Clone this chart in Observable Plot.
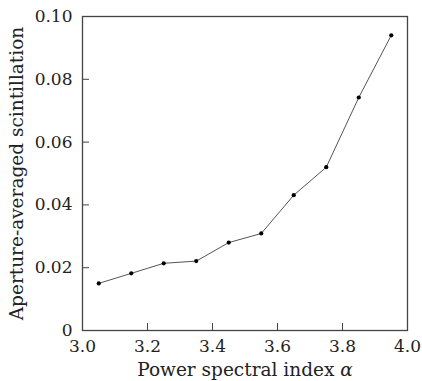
<!DOCTYPE html>
<html><head><meta charset="utf-8">
<script src="https://cdn.jsdelivr.net/npm/d3@7"></script>
<script src="https://cdn.jsdelivr.net/npm/@observablehq/plot@0.6"></script>
<style>body{margin:0;background:#fff}</style>
</head><body><div id="chart"></div>
<script>
const alpha = [3.05, 3.15, 3.25, 3.35, 3.45, 3.55, 3.65, 3.75, 3.85, 3.95];
const scint = [0.0150, 0.0182, 0.0214, 0.0221, 0.0280, 0.0309, 0.0431, 0.0520, 0.0742, 0.0940];
const xTicks = [3.0, 3.2, 3.4, 3.6, 3.8, 4.0];
const xTickLabels = ["3.0", "3.2", "3.4", "3.6", "3.8", "4.0"];
const yTicks = [0, 0.02, 0.04, 0.06, 0.08, 0.10];
const yTickLabels = ["0", "0.02", "0.04", "0.06", "0.08", "0.10"];
const xLabel = "Power spectral index α";
const yLabel = "Aperture-averaged scintillation";

const data = alpha.map((a, i) => ({a, s: scint[i]}));

const plot = Plot.plot({
  width: 422, height: 381,
  marginLeft: 82, marginRight: 15, marginTop: 16, marginBottom: 51,
  style: {fontFamily: "DejaVu Serif", fontSize: "17px", color: "#222", background: "#fff"},
  x: {domain: [3, 4]},
  y: {domain: [0, 0.1]},
  marks: [
    Plot.axisX({ticks: xTicks, tickFormat: d => xTickLabels[xTicks.indexOf(d)], tickSize: -7, tickPadding: 16, stroke: "#444", label: null}),
    Plot.axisY({ticks: yTicks, tickFormat: d => yTickLabels[yTicks.indexOf(d)], tickSize: -7, tickPadding: 17, stroke: "#444", label: null}),
    Plot.frame({stroke: "#444", strokeWidth: 1.3}),
    Plot.line(data, {x: "a", y: "s", stroke: "#555", strokeWidth: 1}),
    Plot.dot(data, {x: "a", y: "s", r: 2.1, fill: "#000", stroke: null}),
    Plot.text([xLabel], {text: d => d, frameAnchor: "bottom", textAnchor: "middle", lineAnchor: "middle", dy: 40, fontSize: 18.5, fill: "#222"}),
    Plot.text([yLabel], {text: d => d, frameAnchor: "left", textAnchor: "middle", lineAnchor: "middle", dx: -65, rotate: -90, fontSize: 18.5, fill: "#222"})
  ]
});
document.getElementById("chart").appendChild(plot);
// italicize the symbol alpha
plot.querySelectorAll("text").forEach(t => {
  if (t.textContent === xLabel) {
    const base = xLabel.slice(0, -1);
    t.textContent = base;
    const ts = document.createElementNS("http://www.w3.org/2000/svg", "tspan");
    ts.setAttribute("font-style", "italic");
    ts.textContent = "α";
    t.appendChild(ts);
  }
});
</script>
</body></html>
